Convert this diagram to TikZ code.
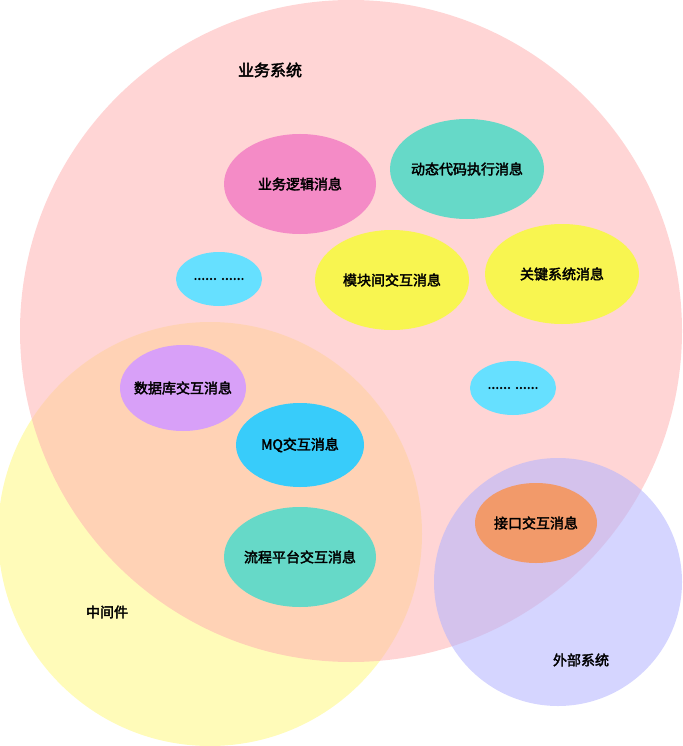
\documentclass[tikz,border=0pt]{standalone}
\usepackage{fontspec}
\newfontfamily\cjk{Noto Sans CJK SC}[AutoFakeBold=2.5]
\definecolor{logicpink}{HTML}{F48BC6}
\definecolor{tealmsg}{HTML}{66D9C8}
\definecolor{cyanmsg}{HTML}{66E0FF}
\definecolor{yellowmsg}{HTML}{F8F550}
\definecolor{purplemsg}{HTML}{D8A0F8}
\definecolor{mqblue}{HTML}{38CCFA}
\definecolor{apiorange}{HTML}{F29A6A}
\begin{document}
\begin{tikzpicture}[x=1pt,y=-1pt,font=\cjk\bfseries\fontsize{14}{16}\selectfont,
  zone/.style={fill opacity=0.55,draw=none},
  title/.style={font=\cjk\bfseries\fontsize{16}{18}\selectfont}]
\useasboundingbox (0,0) rectangle (682,746);
%Circles
\fill[zone,fill=yellow!50] (210,534) circle (212);
\fill[zone,fill=red!30] (351,331) circle (331);
\fill[zone,fill=blue!30] (558,582) circle (124);
%Labels
\node[title] (biz) at (270,70) {业务系统};
\node (mid) at (107,612) {中间件};
\node (ext) at (581,660) {外部系统};
%Message nodes
\fill[logicpink] (300,184) ellipse (76 and 50);
\node (logic) at (300,184) {业务逻辑消息};
\fill[tealmsg] (467,169) ellipse (77 and 50);
\node (dyn) at (467,169) {动态代码执行消息};
\fill[cyanmsg] (219,279) ellipse (43 and 27);
\node (etcA) at (219,279) {...... ......};
\fill[yellowmsg] (392,280) ellipse (77 and 50);
\node (mod) at (392,280) {模块间交互消息};
\fill[yellowmsg] (562,274) ellipse (77 and 50);
\node (key) at (562,274) {关键系统消息};
\fill[purplemsg] (183,388) ellipse (63 and 43);
\node (db) at (183,388) {数据库交互消息};
\fill[cyanmsg] (513,388) ellipse (43 and 27);
\node (etcB) at (513,388) {...... ......};
\fill[mqblue] (300,445) ellipse (64 and 42);
\node (mq) at (300,445) {MQ交互消息};
\fill[tealmsg] (300,557) ellipse (76 and 50);
\node (flow) at (300,557) {流程平台交互消息};
\fill[apiorange] (536,523) ellipse (61 and 40);
\node (api) at (536,523) {接口交互消息};
\end{tikzpicture}
\end{document}
